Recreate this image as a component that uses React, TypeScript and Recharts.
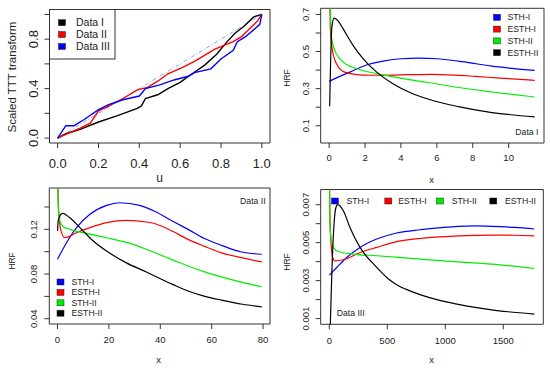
import React from "react";
import { LineChart, Line, XAxis, YAxis, ReferenceArea } from "recharts";

const FONT = "'Liberation Sans', Arial, Helvetica, sans-serif";
const INK = "#333";
const BLUE = "#0000ff";
const RED = "#ff0000";
const GREEN = "#00ee00";
const BLACK = "#000000";

// --- Data I / II / III scaled TTT plots (panel 1)
const tttU1 = [0, 0.04, 0.11, 0.2, 0.29, 0.39, 0.41, 0.43, 0.49, 0.54, 0.6, 0.65, 0.72, 0.78, 0.83, 0.87, 0.91, 0.96, 1.0];
const tttV1 = [0, 0.035, 0.07, 0.13, 0.18, 0.24, 0.26, 0.32, 0.35, 0.4, 0.45, 0.51, 0.59, 0.68, 0.78, 0.85, 0.9, 0.98, 1.0];
const tttU2 = [0, 0.04, 0.11, 0.16, 0.2, 0.24, 0.32, 0.39, 0.44, 0.49, 0.54, 0.61, 0.67, 0.77, 0.86, 0.9, 0.95, 0.98, 1.0];
const tttV2 = [0, 0.03, 0.08, 0.12, 0.22, 0.25, 0.32, 0.39, 0.41, 0.46, 0.52, 0.57, 0.62, 0.72, 0.78, 0.82, 0.9, 0.95, 1.0];
const tttU3 = [0, 0.04, 0.08, 0.13, 0.2, 0.25, 0.32, 0.4, 0.43, 0.5, 0.57, 0.64, 0.67, 0.75, 0.8, 0.86, 0.88, 0.92, 0.97, 0.99, 1.0];
const tttV3 = [0, 0.1, 0.1, 0.15, 0.23, 0.27, 0.31, 0.34, 0.4, 0.43, 0.47, 0.5, 0.53, 0.56, 0.64, 0.71, 0.78, 0.82, 0.89, 0.92, 1.0];
const diagU = [0, 1];
const diagV = [0, 1];

// --- HRF, Data I (panel 2)
const d1SthIX = [0, 0.5, 1.16, 2.0, 3.0, 4.0, 5.0, 6.0, 7.2, 8.2, 9.07, 10.2, 11.45];
const d1SthIY = [0.339, 0.362, 0.389, 0.425, 0.448, 0.461, 0.464, 0.461, 0.448, 0.434, 0.421, 0.409, 0.398];
const d1EsthIX = [0.02, 0.08, 0.22, 0.41, 0.69, 1.16, 1.9, 3.0, 4.5, 5.6, 7.0, 8.14, 9.5, 11.45];
const d1EsthIY = [0.9, 0.595, 0.488, 0.434, 0.398, 0.381, 0.373, 0.372, 0.375, 0.377, 0.373, 0.366, 0.357, 0.345];
const d1SthIIX = [0.02, 0.13, 0.32, 0.6, 0.97, 1.72, 2.65, 4.13, 5.5, 7.2, 9.07, 11.45];
const d1SthIIY = [0.95, 0.577, 0.505, 0.461, 0.43, 0.402, 0.381, 0.354, 0.333, 0.306, 0.282, 0.255];
const d1EsthIIX = [0.03, 0.15, 0.28, 0.5, 0.78, 1.34, 1.9, 2.65, 3.58, 4.5, 5.5, 7.2, 9.07, 11.45];
const d1EsthIIY = [0.205, 0.63, 0.68, 0.665, 0.622, 0.532, 0.461, 0.389, 0.325, 0.279, 0.244, 0.203, 0.171, 0.148];

// --- HRF, Data II (panel 3)
const d2SthIX = [0, 3.5, 7.4, 12.6, 19.1, 24.2, 32, 38, 45, 50.8, 57, 63.8, 71.6, 79.5];
const d2SthIY = [0.0932, 0.108, 0.1215, 0.1335, 0.1415, 0.1438, 0.1415, 0.136, 0.127, 0.12, 0.112, 0.1057, 0.0997, 0.0977];
const d2EsthIX = [0, 0.5, 1.2, 2.8, 4.5, 6.1, 12.6, 19.1, 26.8, 34.6, 38, 45, 50.8, 57, 63.8, 72, 79.5];
const d2EsthIY = [0.165, 0.135, 0.12, 0.1125, 0.1135, 0.1156, 0.1215, 0.126, 0.128, 0.1266, 0.125, 0.118, 0.111, 0.105, 0.099, 0.0945, 0.0908];
const d2SthIIX = [0, 0.25, 0.9, 2.2, 4.8, 10, 19.1, 29.4, 38, 45, 50.8, 57, 63.8, 72, 79.5];
const d2SthIIY = [0.2, 0.141, 0.1275, 0.1224, 0.12, 0.117, 0.1125, 0.1066, 0.099, 0.0925, 0.0872, 0.0822, 0.0775, 0.0725, 0.0686];
const d2EsthIIX = [0, 0.3, 1.9, 4.8, 8.7, 13.9, 19.1, 26.8, 34.6, 38, 45, 50.8, 57, 63.8, 72, 79.5];
const d2EsthIIY = [0.1185, 0.128, 0.1343, 0.1304, 0.1215, 0.1096, 0.1006, 0.09, 0.0818, 0.078, 0.0705, 0.0648, 0.0603, 0.0567, 0.053, 0.0507];

// --- HRF, Data III (panel 4)
const d3SthIX = [0, 64, 150, 265, 409, 581, 782, 950, 1112, 1250, 1400, 1600, 1767];
const d3SthIY = [0.00329, 0.00369, 0.00422, 0.00475, 0.00519, 0.00551, 0.00568, 0.00578, 0.00586, 0.00588, 0.00586, 0.0058, 0.00572];
const d3EsthIX = [0, 6, 15, 29, 49, 121, 265, 409, 581, 782, 950, 1112, 1400, 1600, 1767];
const d3EsthIY = [0.009, 0.00625, 0.00501, 0.00422, 0.00404, 0.0041, 0.00448, 0.00475, 0.00505, 0.00522, 0.0053, 0.00536, 0.0054, 0.00539, 0.00536];
const d3SthIIX = [0, 4, 12, 35, 83, 207, 409, 600, 782, 1112, 1400, 1767];
const d3SthIIY = [0.0095, 0.0068, 0.00536, 0.00475, 0.00452, 0.0044, 0.00431, 0.00422, 0.00413, 0.00399, 0.00387, 0.00364];
const d3EsthIIX = [8, 23, 40, 55, 72, 121, 178, 265, 409, 508, 581, 700, 782, 969, 1112, 1256, 1400, 1543, 1767];
const d3EsthIIY = [0.0005, 0.0036, 0.00589, 0.0068, 0.007, 0.00668, 0.0058, 0.00475, 0.0037, 0.0031, 0.00278, 0.00245, 0.00226, 0.00193, 0.00175, 0.00159, 0.00146, 0.00136, 0.00124];

const hrfNames = ["STH-I", "ESTH-I", "STH-II", "ESTH-II"];
const hrfColors = [BLUE, RED, GREEN, BLACK];
const tttNames = ["Data I", "Data II", "Data III"];
const tttColors = [BLACK, RED, BLUE];

const W = 275;
const H = 186;
const Y_W = 30;
const X_H = 20;

const pts = (xs, ys) => xs.map((x, i) => ({ x, y: ys[i] }));
const near = (list, v) => list.some((t) => Math.abs(t - v) < 1e-9);

function Panel({ left, top, margin, xDomain, yDomain, xTicks, yTicks, yLabeled, fmtX, fmtY, series, tickFont, xOff, yOff }) {
  const plotLeft = margin.left + Y_W;
  const plotBottom = H - margin.bottom - X_H;

  const xTick = (p) => (
    <text x={p.x} y={plotBottom + xOff} dy="0.35em" textAnchor="middle" fontSize={tickFont} fontFamily={FONT} fill="#222">
      {fmtX(p.payload.value)}
    </text>
  );
  const yTick = (p) => {
    if (!near(yLabeled, p.payload.value)) return <g />;
    const tx = plotLeft - yOff;
    return (
      <text x={tx} y={p.y} dy="0.35em" textAnchor="middle" fontSize={tickFont} fontFamily={FONT} fill="#222" transform={`rotate(-90 ${tx} ${p.y})`}>
        {fmtY(p.payload.value)}
      </text>
    );
  };

  return (
    <div style={{ position: "absolute", left, top, width: W, height: H }}>
      <LineChart width={W} height={H} margin={margin}>
        <XAxis dataKey="x" type="number" domain={xDomain} ticks={xTicks} allowDataOverflow axisLine={false} tickLine={{ stroke: INK }} tickSize={5} tickMargin={0} height={X_H} tick={xTick} interval={0} />
        <YAxis dataKey="y" type="number" domain={yDomain} ticks={yTicks} allowDataOverflow axisLine={false} tickLine={{ stroke: INK }} tickSize={5} tickMargin={0} width={Y_W} tick={yTick} interval={0} />
        <ReferenceArea x1={xDomain[0]} x2={xDomain[1]} y1={yDomain[0]} y2={yDomain[1]} fill="none" fillOpacity={0} stroke={INK} strokeWidth={1} />
        {series.map((s) => (
          <Line key={s.name} data={pts(s.xs, s.ys)} dataKey="y" type={s.type} stroke={s.color} strokeWidth={s.width} strokeDasharray={s.dash} dot={false} activeDot={false} isAnimationActive={false} />
        ))}
      </LineChart>
    </div>
  );
}

function Legend({ items, colors, font }) {
  return (
    <>
      {items.map((it, i) => (
        <g key={it.label}>
          <rect x={it.sx - 3.5} y={it.y - 3} width={7} height={6} fill={colors[i]} stroke="#222" strokeWidth={0.5} />
          <text x={it.tx} y={it.y} dy="0.35em" fontSize={font} fontFamily={FONT} fill="#222">{it.label}</text>
        </g>
      ))}
    </>
  );
}

export default function App() {
  const f1 = (v) => v.toFixed(1);
  const fInt = (v) => String(v);
  const hrfType = "monotone";

  const p1Series = [
    { name: "diag", xs: diagU, ys: diagV, color: "#74aee6", width: 1, dash: "1 2 4 2", type: "linear" },
    { name: tttNames[0], xs: tttU1, ys: tttV1, color: BLACK, width: 1.4, type: "linear" },
    { name: tttNames[1], xs: tttU2, ys: tttV2, color: RED, width: 1.4, type: "linear" },
    { name: tttNames[2], xs: tttU3, ys: tttV3, color: BLUE, width: 1.4, type: "linear" },
  ];
  const mk = (sets) => sets.map(([xs, ys], i) => ({ name: hrfNames[i], xs, ys, color: hrfColors[i], width: 1.2, type: hrfType }));
  const p2Series = mk([[d1SthIX, d1SthIY], [d1EsthIX, d1EsthIY], [d1SthIIX, d1SthIIY], [d1EsthIIX, d1EsthIIY]]);
  const p3Series = mk([[d2SthIX, d2SthIY], [d2EsthIX, d2EsthIY], [d2SthIIX, d2SthIIY], [d2EsthIIX, d2EsthIIY]]);
  const p4Series = mk([[d3SthIX, d3SthIY], [d3EsthIX, d3EsthIY], [d3SthIIX, d3SthIIY], [d3EsthIIX, d3EsthIIY]]);

  const txt = { fontFamily: FONT, fill: "#222" };

  return (
    <div style={{ position: "absolute", left: 0, top: 0, width: 550, height: 372, background: "#fff", overflow: "hidden" }}>
      <Panel
        left={0} top={0}
        margin={{ top: 9.5, left: 19.5, right: 5, bottom: 23 }}
        xDomain={[-0.04, 1.04]} yDomain={[-0.04, 1.04]}
        xTicks={[0, 0.2, 0.4, 0.6, 0.8, 1]} yTicks={[0, 0.2, 0.4, 0.6, 0.8, 1]} yLabeled={[0, 0.4, 0.8]}
        fmtX={f1} fmtY={f1} series={p1Series} tickFont={13} xOff={20} yOff={16.5}
      />
      <Panel
        left={275} top={0}
        margin={{ top: 8.3, left: 15.7, right: 6, bottom: 23 }}
        xDomain={[-0.47, 11.97]} yDomain={[0.007, 0.733]}
        xTicks={[0, 2, 4, 6, 8, 10]} yTicks={[0.1, 0.2, 0.3, 0.4, 0.5, 0.6, 0.7]} yLabeled={[0.1, 0.3, 0.5, 0.7]}
        fmtX={fInt} fmtY={f1} series={p2Series} tickFont={9.5} xOff={14.5} yOff={15.5}
      />
      <Panel
        left={0} top={186}
        margin={{ top: 2, left: 19.3, right: 5, bottom: 28 }}
        xDomain={[-3.2, 82.7]} yDomain={[0.0353, 0.157]}
        xTicks={[0, 20, 40, 60, 80]} yTicks={[0.04, 0.06, 0.08, 0.1, 0.12, 0.14]} yLabeled={[0.04, 0.08, 0.12]}
        fmtX={fInt} fmtY={(v) => v.toFixed(2)} series={p3Series} tickFont={9.5} xOff={16} yOff={16}
      />
      <Panel
        left={275} top={186}
        margin={{ top: 3.5, left: 15.7, right: 6.7, bottom: 27.7 }}
        xDomain={[-74, 1845]} yDomain={[0.0007, 0.0078]}
        xTicks={[0, 500, 1000, 1500]} yTicks={[0.001, 0.002, 0.003, 0.004, 0.005, 0.006, 0.007]} yLabeled={[0.001, 0.003, 0.005, 0.007]}
        fmtX={fInt} fmtY={(v) => v.toFixed(3)} series={p4Series} tickFont={9.5} xOff={16} yOff={15}
      />

      <svg width={550} height={372} style={{ position: "absolute", left: 0, top: 0, pointerEvents: "none" }}>
        {/* axis titles */}
        <text x={12} y={77} dy="0.35em" textAnchor="middle" fontSize={11.5} transform="rotate(-90 12 77)" {...txt}>Scaled TTT transform</text>
        <text x={159.5} y={178} dy="0.35em" textAnchor="middle" fontSize={12} {...txt}>u</text>
        <text x={287} y={78} dy="0.35em" textAnchor="middle" fontSize={8.5} transform="rotate(-90 287 78)" {...txt}>HRF</text>
        <text x={431.5} y={180} dy="0.35em" textAnchor="middle" fontSize={9.5} {...txt}>x</text>
        <text x={12} y={261} dy="0.35em" textAnchor="middle" fontSize={8.5} transform="rotate(-90 12 261)" {...txt}>HRF</text>
        <text x={158.5} y={360} dy="0.35em" textAnchor="middle" fontSize={9.5} {...txt}>x</text>
        <text x={287} y={262} dy="0.35em" textAnchor="middle" fontSize={8.5} transform="rotate(-90 287 262)" {...txt}>HRF</text>
        <text x={431.5} y={360} dy="0.35em" textAnchor="middle" fontSize={9.5} {...txt}>x</text>

        {/* panel 1 legend */}
        <rect x={49.5} y={9.5} width={65.5} height={49.5} fill="#fff" stroke={INK} strokeWidth={1} />
        <Legend font={10.5} colors={tttColors} items={[
          { label: tttNames[0], sx: 62, tx: 76, y: 22.7 },
          { label: tttNames[1], sx: 62, tx: 76, y: 34.5 },
          { label: tttNames[2], sx: 62, tx: 76, y: 46.5 },
        ]} />

        {/* panel 2 legend */}
        <Legend font={8.7} colors={hrfColors} items={hrfNames.map((label, i) => ({ label, sx: 497, tx: 507.5, y: 17.3 + i * 11.8 }))} />
        <text x={538.5} y={131.7} dy="0.35em" textAnchor="end" fontSize={8.7} {...txt}>Data I</text>

        {/* panel 3 legend */}
        <Legend font={8.7} colors={hrfColors} items={hrfNames.map((label, i) => ({ label, sx: 60.5, tx: 71.5, y: 282 + i * 10.4 }))} />
        <text x={265.7} y={201} dy="0.35em" textAnchor="end" fontSize={8.7} {...txt}>Data II</text>

        {/* panel 4 legend */}
        <Legend font={8.7} colors={hrfColors} items={[
          { label: hrfNames[0], sx: 335, tx: 346.5, y: 201 },
          { label: hrfNames[1], sx: 388.3, tx: 398.3, y: 201 },
          { label: hrfNames[2], sx: 440, tx: 451.7, y: 201 },
          { label: hrfNames[3], sx: 493.3, tx: 505, y: 201 },
        ]} />
        <text x={336.7} y={312.7} dy="0.35em" fontSize={8.7} {...txt}>Data III</text>
      </svg>
    </div>
  );
}
